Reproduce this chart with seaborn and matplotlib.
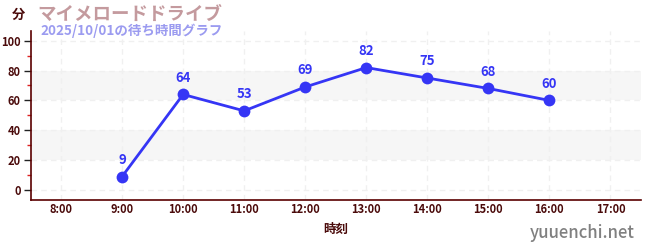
import matplotlib
matplotlib.use("Agg")
import matplotlib.pyplot as plt
import seaborn as sns
import pandas as pd
from matplotlib.ticker import MultipleLocator

hours = [9, 10, 11, 12, 13, 14, 15, 16]
waits = [9, 64, 53, 69, 82, 75, 68, 60]
tick_hours = [8, 9, 10, 11, 12, 13, 14, 15, 16, 17]
tick_labels = ["8:00", "9:00", "10:00", "11:00", "12:00", "13:00", "14:00", "15:00", "16:00", "17:00"]
title = "マイメロードドライブ"
subtitle = "2025/10/01の待ち時間グラフ"

sns.set_theme(style="white")
plt.rcParams['font.family'] = ['Noto Sans CJK JP', 'DejaVu Sans']

df = pd.DataFrame({"hour": hours, "wait": waits})

fig = plt.figure(figsize=(6.5, 2.5), dpi=100)
ax = fig.add_axes([30.5/650, 1 - 200/250, (641 - 30.5)/650, (200 - 30.7)/250])

dark = "#4a0a0a"
line_c = "#3535f5"

for lo, hi in [(20, 40), (60, 80)]:
    ax.axhspan(lo, hi, color="#f6f6f6", zorder=0, lw=0)

sns.lineplot(data=df, x="hour", y="wait", ax=ax, color=line_c, lw=2.0,
             marker="o", markersize=8.5, markeredgewidth=0, zorder=3)

for h, w in zip(hours, waits):
    ax.annotate(str(w), (h, w), xytext=(0, 7), textcoords="offset points",
                ha="center", va="bottom", color=line_c, fontsize=9.5, fontweight="bold")

ax.set_xlim(7.5, 17.5)
ax.set_ylim(-6.7, 106.7)
ax.set_xticks(tick_hours)
ax.set_xticklabels(tick_labels)
ax.set_yticks([0, 20, 40, 60, 80, 100])
ax.yaxis.set_minor_locator(MultipleLocator(10))

ax.grid(True, which="major", color="#f0f0f0", ls=(0, (4, 3)), lw=1)
ax.set_axisbelow(True)

for s in ["top", "right"]:
    ax.spines[s].set_visible(False)
for s in ["left", "bottom"]:
    ax.spines[s].set_color("#5a0000")
    ax.spines[s].set_linewidth(1.2)

ax.tick_params(axis="x", which="major", direction="inout", length=4, width=1.5, color="#888888",
               labelsize=8, labelcolor=dark, pad=0)
ax.tick_params(axis="y", which="major", length=5, width=1, color="#222222",
               labelsize=8, labelcolor=dark, left=True, pad=2)
ax.tick_params(axis="y", which="minor", length=3, width=1, color="#dd2222", left=True)
for lab in ax.get_xticklabels() + ax.get_yticklabels():
    lab.set_fontweight("bold")

ax.set_xlabel("時刻", fontsize=9, fontweight="bold", color=dark, labelpad=5)
ax.set_ylabel("")

fig.text(12/650, 1 - 15/250, "分", fontsize=9.5, fontweight="bold", color=dark, va="center", ha="left")
fig.text(37/650, 1 - 14/250, title, fontsize=13.3, fontweight="bold", color="#c49a9e", va="center", ha="left")
fig.text(40/650, 1 - 31/250, subtitle, fontsize=9.7, fontweight="bold", color="#9b9bf0", va="center", ha="left")
fig.text(635/650, 1 - 233/250, "yuuenchi.net", fontsize=12, fontweight="medium", color="#808080", va="center", ha="right")

fig.savefig("out.png", dpi=100)
